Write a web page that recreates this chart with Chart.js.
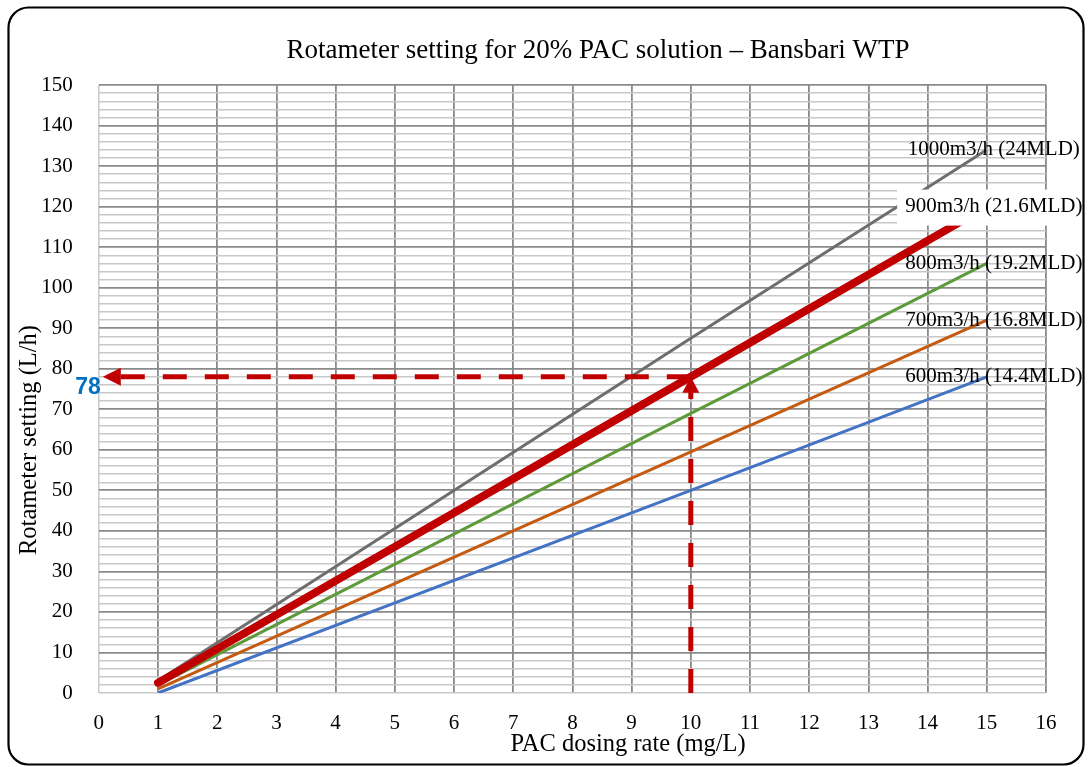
<!DOCTYPE html>
<html>
<head>
<meta charset="utf-8">
<title>Rotameter setting for 20% PAC solution – Bansbari WTP</title>
<script src="https://cdn.jsdelivr.net/npm/chart.js@4.4.1/dist/chart.umd.min.js"></script>
<style>
  html, body { margin: 0; padding: 0; background: #ffffff; }
  #wrap { width: 1089px; height: 767px; position: relative; }
</style>
</head>
<body>
<div id="wrap"><canvas id="chart"></canvas></div>
<script>
// PAC dosing rate (mg/L) at which each flow curve is read
const doses = [1, 10, 15];

// Rotameter setting (L/h) for each plant flow
const flow600 = [0, 50, 78];
const flow700 = [1, 59.5, 92];
const flow800 = [2, 69, 106];
const flow900 = [2.5, 78, 120];
const flow1000 = [3, 87.5, 134];

const seriesNames = [
  '600m3/h (14.4MLD)',
  '700m3/h (16.8MLD)',
  '800m3/h (19.2MLD)',
  '900m3/h (21.6MLD)',
  '1000m3/h (24MLD)'
];

// Worked example: 10 mg/L at 900 m3/h reads 78 L/h
const exampleDose = 10;
const exampleSetting = 78;

// Axis ranges and tick spacing
const xMin = 0, xMax = 16, xStep = 1;
const yMin = 0, yMax = 150, yStep = 2, yLabelEvery = 10;

const chartTitle = 'Rotameter setting for 20% PAC solution – Bansbari WTP';
const xTitle = 'PAC dosing rate (mg/L)';
const yTitle = 'Rotameter setting (L/h)';

const SERIF = '"Liberation Serif", "Times New Roman", serif';

function pts(values) {
  return doses.map((d, i) => ({ x: d, y: values[i] }));
}

const seriesStyle = [
  { color: '#4472C4', width: 3, order: 5 },
  { color: '#C55A11', width: 3, order: 4 },
  { color: '#5E9A3A', width: 3, order: 3 },
  { color: '#C00000', width: 8, order: 1, cap: 'round', boxed: true },
  { color: '#6E6E6E', width: 3, order: 2 }
];
const seriesValues = [flow600, flow700, flow800, flow900, flow1000];

const datasets = seriesValues.map((vals, i) => ({
  label: seriesNames[i],
  data: pts(vals),
  showLine: true,
  borderColor: seriesStyle[i].color,
  backgroundColor: seriesStyle[i].color,
  borderWidth: seriesStyle[i].width,
  borderCapStyle: seriesStyle[i].cap || 'butt',
  pointRadius: 0,
  order: seriesStyle[i].order
}));

// Dashed read-off guides for the worked example
datasets.push({
  label: 'guide-h',
  data: [{ x: exampleDose, y: exampleSetting }, { x: xMin + 0.1, y: exampleSetting }],
  showLine: true,
  borderColor: '#C00000',
  borderWidth: 5,
  borderDash: [24, 18],
  pointRadius: 0,
  order: 0
});
datasets.push({
  label: 'guide-v',
  data: [{ x: exampleDose, y: yMin }, { x: exampleDose, y: exampleSetting - 3 }],
  showLine: true,
  borderColor: '#C00000',
  borderWidth: 5,
  borderDash: [24, 18],
  pointRadius: 0,
  order: 0
});

const decor = {
  id: 'decor',
  beforeDraw(chart) {
    const c = chart.ctx;
    c.save();
    c.fillStyle = '#ffffff';
    c.fillRect(0, 0, chart.width, chart.height);
    c.restore();
  },
  afterDatasetsDraw(chart) {
    const c = chart.ctx;
    const { x, y } = chart.scales;
    c.save();

    // arrowheads of the guides
    const ay = y.getPixelForValue(exampleSetting);
    const ax = x.getPixelForValue(xMin) + 4;
    c.fillStyle = '#C00000';
    c.beginPath();
    c.moveTo(ax, ay);
    c.lineTo(ax + 18, ay - 9);
    c.lineTo(ax + 18, ay + 9);
    c.closePath();
    c.fill();

    const vx = x.getPixelForValue(exampleDose);
    c.beginPath();
    c.moveTo(vx, ay);
    c.lineTo(vx - 8.5, ay + 16);
    c.lineTo(vx + 8.5, ay + 16);
    c.closePath();
    c.fill();

    // series labels at the end of each curve
    const last = doses.length - 1;
    c.font = '21px ' + SERIF;
    c.textAlign = 'center';
    c.textBaseline = 'middle';
    seriesValues.forEach((vals, i) => {
      const px = x.getPixelForValue(doses[last]) + 7;
      const py = y.getPixelForValue(vals[last]);
      if (seriesStyle[i].boxed) {
        const w = c.measureText(seriesNames[i]).width;
        c.fillStyle = '#ffffff';
        c.fillRect(px - w / 2 - 8, py - 17, w + 16, 36);
      }
      c.fillStyle = '#000000';
      c.fillText(seriesNames[i], px, py);
    });

    // value read on the vertical axis
    c.font = 'bold 23px "Liberation Sans", Arial, sans-serif';
    c.fillStyle = '#0070C0';
    c.textAlign = 'right';
    c.textBaseline = 'middle';
    c.fillText(String(exampleSetting), x.getPixelForValue(xMin) + 2, ay + 11);
    c.restore();
  },
  afterDraw(chart) {
    const c = chart.ctx;
    c.save();
    c.fillStyle = '#000000';
    c.textAlign = 'center';

    // chart title
    c.font = '27px ' + SERIF;
    c.textBaseline = 'alphabetic';
    c.fillText(chartTitle, 598, 58);

    // axis titles
    c.font = '24.5px ' + SERIF;
    c.textBaseline = 'middle';
    c.fillText(xTitle, 628, 745);
    c.translate(30, 440);
    c.rotate(-Math.PI / 2);
    c.fillText(yTitle, 0, 0);
    c.setTransform(1, 0, 0, 1, 0, 0);

    // rounded frame
    c.strokeStyle = '#000000';
    c.lineWidth = 2.2;
    c.beginPath();
    c.roundRect(8.5, 7.5, 1075, 757, 20);
    c.stroke();
    c.restore();
  }
};

new Chart(document.getElementById('chart'), {
  type: 'scatter',
  data: { datasets },
  options: {
    responsive: true,
    maintainAspectRatio: false,
    animation: false,
    layout: { padding: { left: 12, right: 43, top: 85, bottom: 8 } },
    plugins: {
      legend: { display: false },
      tooltip: { enabled: false },
      title: { display: false }
    },
    scales: {
      x: {
        type: 'linear',
        min: xMin,
        max: xMax,
        border: { display: false },
        grid: {
          drawTicks: false,
          color: (ctx) => (ctx.tick && ctx.tick.value === xMin ? '#c8c8c8' : '#8a8a8a'),
          lineWidth: (ctx) => (ctx.tick && ctx.tick.value === xMin ? 1.5 : 1.8)
        },
        ticks: {
          stepSize: xStep,
          autoSkip: false,
          maxRotation: 0,
          padding: 18,
          color: '#000000',
          font: { family: SERIF, size: 21 }
        },
        afterFit(scale) { scale.height = 66; }
      },
      y: {
        type: 'linear',
        min: yMin,
        max: yMax,
        border: { display: false },
        grid: {
          drawTicks: false,
          color: (ctx) => {
            const v = ctx.tick ? ctx.tick.value : 0;
            if (v === yMin) return '#c8c8c8';
            return v % yLabelEvery === 0 ? '#8a8a8a' : '#c8c8c8';
          },
          lineWidth: (ctx) => {
            const v = ctx.tick ? ctx.tick.value : 0;
            return (v !== yMin && v % yLabelEvery === 0) ? 1.8 : 1.4;
          }
        },
        ticks: {
          stepSize: yStep,
          autoSkip: false,
          padding: 26,
          color: '#000000',
          font: { family: SERIF, size: 21 },
          callback: (v) => (v % yLabelEvery === 0 ? String(v) : '')
        },
        afterFit(scale) { scale.width = 86.8; }
      }
    }
  },
  plugins: [decor]
});
</script>
</body>
</html>
